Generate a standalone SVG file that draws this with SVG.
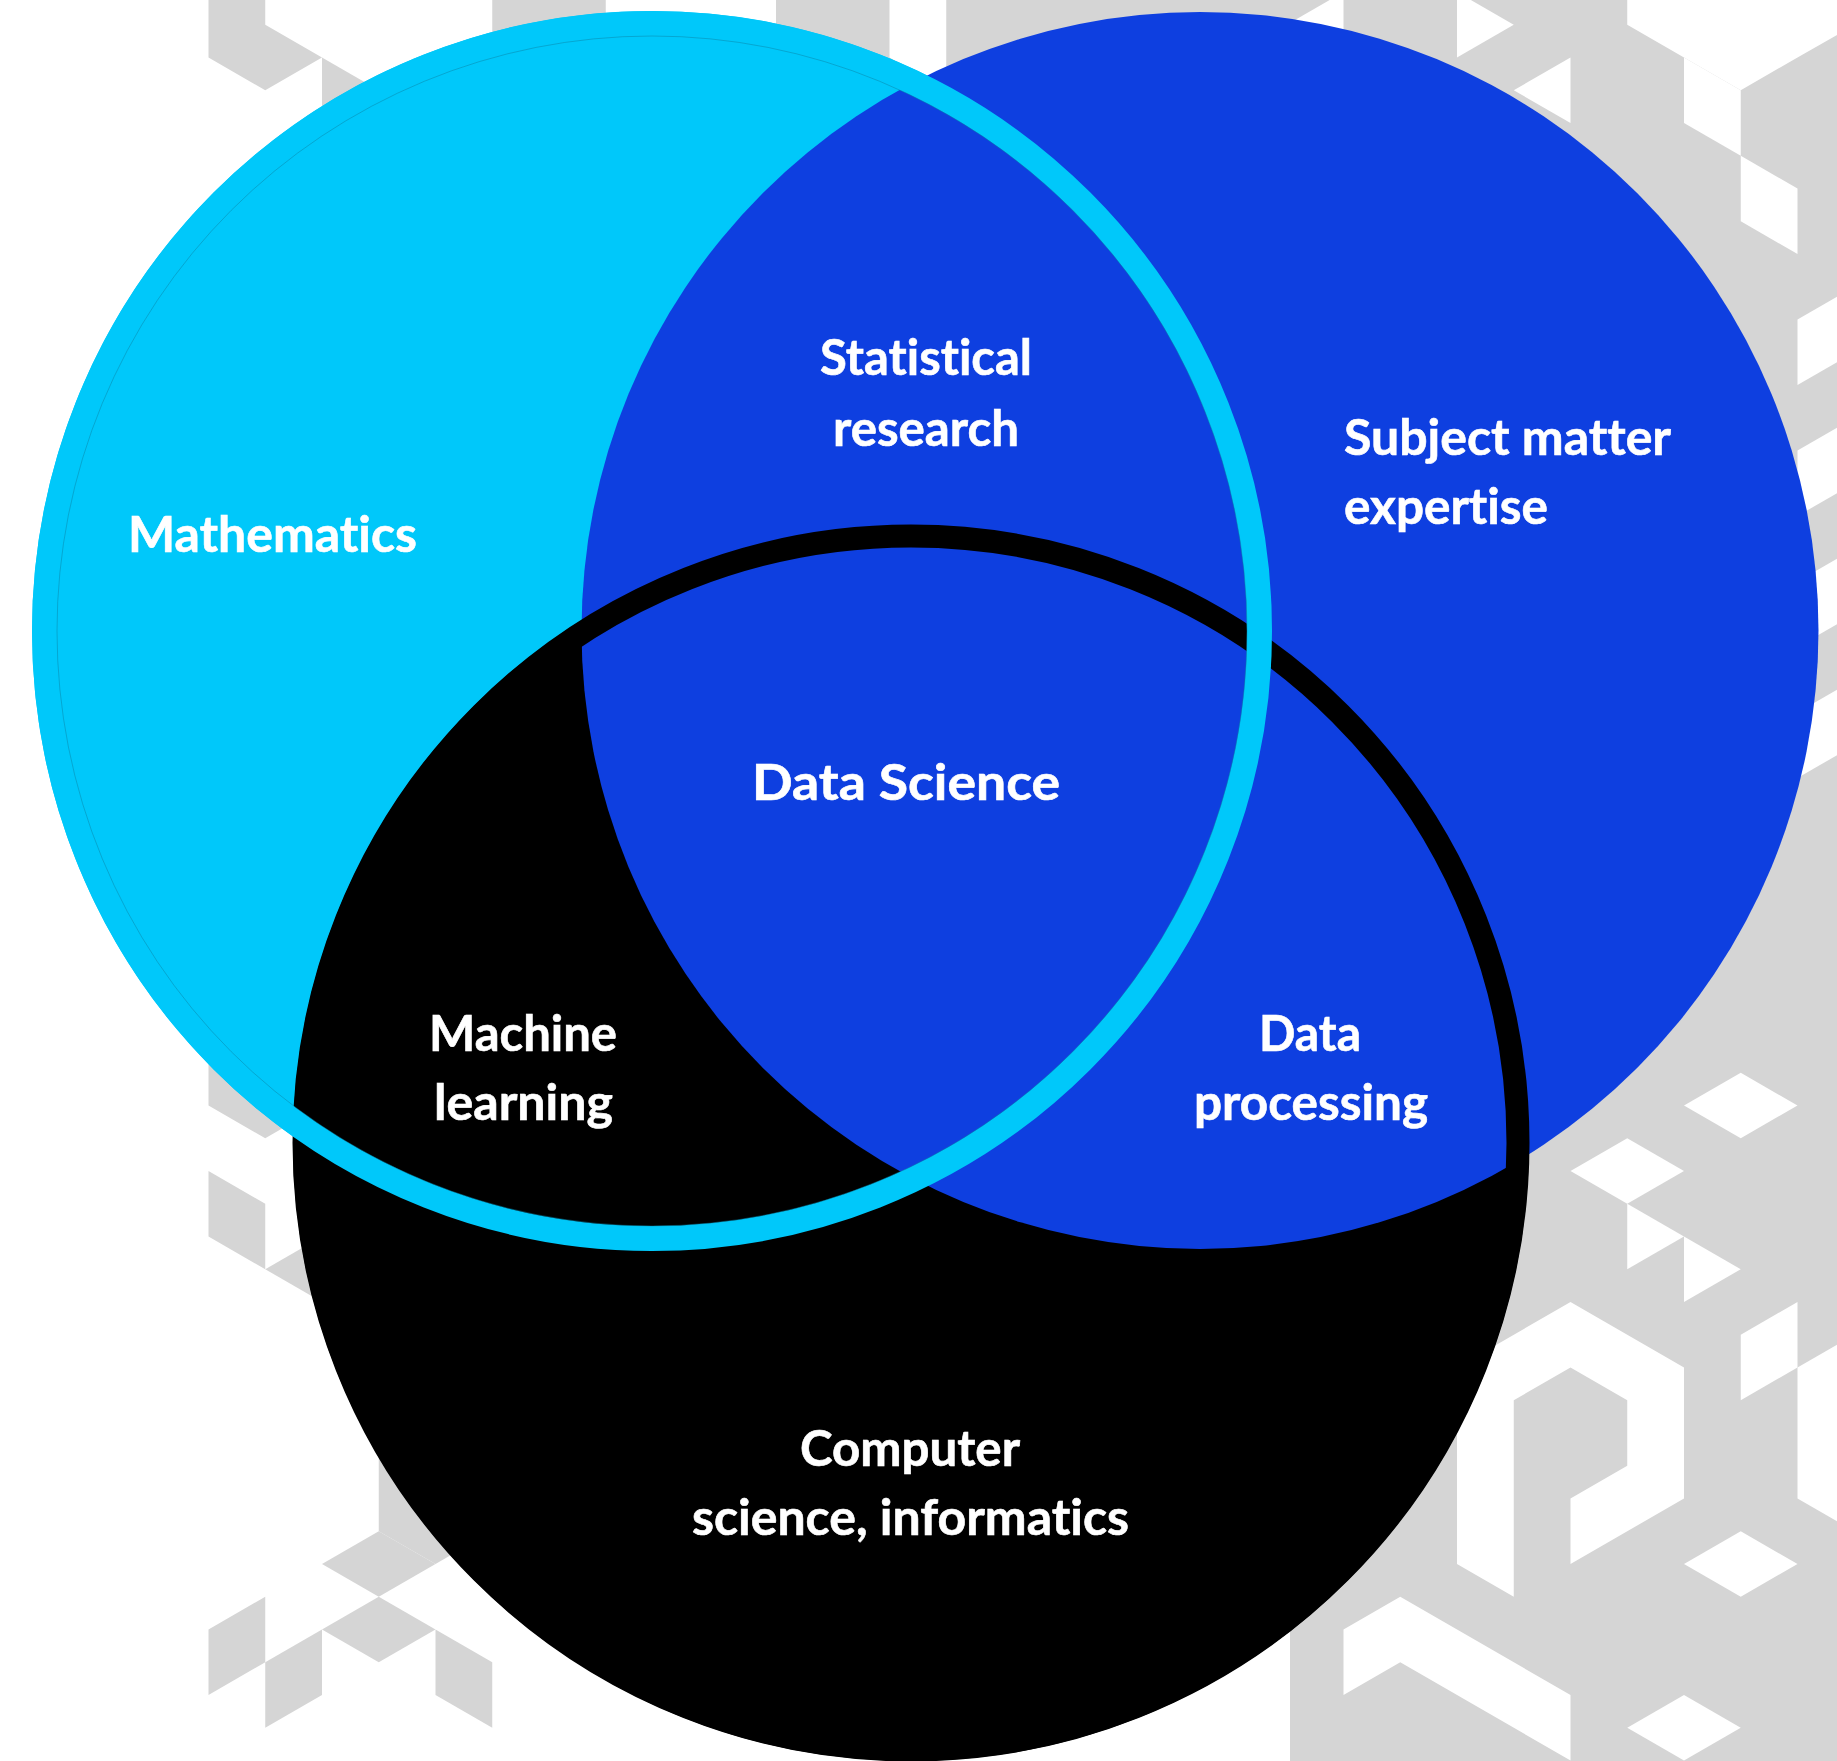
<svg xmlns="http://www.w3.org/2000/svg" width="1837" height="1761" viewBox="0 0 1837 1761">
<style>
.lbl{font-family:Lato,"Liberation Sans",sans-serif;font-weight:700;font-size:49px;fill:#ffffff;stroke:#ffffff;stroke-width:0.6;font-variant-ligatures:none;font-feature-settings:"liga" 0,"clig" 0}
.c{text-anchor:middle}
.pat{fill:#d5d5d5}
.w{fill:#ffffff}
</style>
<rect width="1837" height="1761" fill="#ffffff"/>
<g id="background-pattern">
<g class="pat">
<polygon points="208.5,0 265.25,0 265.25,24.75 322,57.5 265.25,90.25 208.5,57.5"/>
<polygon points="322,57.5 378.75,90.25 378.75,155.75 322,123"/>
<polygon points="492.25,0 605.75,0 605.75,70 492.25,70"/>
<polygon points="776,0 1457,0 1457,80 776,80"/>
<polygon points="1457,0 1837,0 1837,1761 1290,1761 1290,1300 1400,1100 1500,600 1457,100"/>
<polygon points="208.5,1040 265.25,1072.75 322,1040 322,1105.5 265.25,1138.25 208.5,1105.5"/>
<polygon points="208.5,1171 265.25,1203.75 265.25,1269.25 208.5,1236.5"/>
<polygon points="265.25,1269.25 322,1236.5 322,1302"/>
<polygon points="378.75,1420 492.25,1420 492.25,1531.25 435.5,1564 378.75,1531.25"/>
<polygon points="322,1564 378.75,1531.25 435.5,1564 378.75,1596.75"/>
<polygon points="322,1629.5 378.75,1596.75 435.5,1629.5 378.75,1662.25"/>
<polygon points="208.5,1629.5 265.25,1596.75 265.25,1662.25 208.5,1695"/>
<polygon points="265.25,1662.25 322,1629.5 322,1695 265.25,1727.75"/>
<polygon points="435.5,1629.5 492.25,1662.25 492.25,1727.75 435.5,1695"/>
</g>
<g class="w">
<polygon points="889.5,0 946.25,0 946.25,90.25 889.5,57.5"/>
<polygon points="1286.75,24.75 1343.5,-8 1343.5,57.5"/>
<polygon points="1627.25,0 1837,0 1837,35 1797.5,57.5 1740.75,90.25 1627.25,24.75"/>
<polygon points="1684,57.5 1740.75,90.25 1740.75,155.75 1684,123"/>
<polygon points="1457,-8 1513.75,24.75 1457,57.5"/>
<polygon points="1513.75,90.25 1570.5,57.5 1570.5,123"/>
<polygon points="1740.75,155.75 1797.5,188.5 1797.5,254 1740.75,221.25"/>
<polygon points="1797.5,319.5 1837,296.7 1837,362.2 1797.5,385"/>
<polygon points="1797.5,450.5 1837,427.7 1837,493.2 1797.5,516"/>
<polygon points="1797.5,581.5 1837,558.7 1837,624.2 1797.5,647"/>
<polygon points="1797.5,712.5 1837,689.7 1837,755.2 1797.5,778"/>
<polygon points="1684,1105.5 1740.75,1072.75 1797.5,1105.5 1740.75,1138.25"/>
<polygon points="1570.5,1171 1627.25,1138.25 1684,1171 1627.25,1203.75"/>
<polygon points="1627.25,1203.75 1684,1236.5 1627.25,1269.25"/>
<polygon points="1684,1236.5 1740.75,1269.25 1684,1302"/>
<polygon points="1457,1367.5 1570.5,1302 1684,1367.5 1684,1498.5 1570.5,1564 1570.5,1498.5 1627.25,1465.75 1627.25,1400.25 1570.5,1367.5 1513.75,1400.25 1513.75,1596.75 1457,1564"/>
<polygon points="1740.75,1334.75 1797.5,1302 1797.5,1367.5 1740.75,1400.25"/>
<polygon points="1797.5,1367.5 1837,1344.7 1837,1521.3 1797.5,1498.5"/>
<polygon points="1684,1564 1740.75,1531.25 1797.5,1564 1740.75,1596.75"/>
<polygon points="1343.5,1629.5 1400.25,1596.75 1570.5,1695 1570.5,1760.5 1400.25,1662.25 1343.5,1695"/>
<polygon points="1627.25,1727.75 1684,1695 1740.75,1727.75 1684,1760.5"/>
</g>
</g>
<g id="node-mathematics-fill"><circle cx="652" cy="631" r="620" fill="#00c8fa"/></g>
<g id="node-computer-science-fill"><circle cx="911" cy="1143" r="618" fill="#000000"/></g>
<g id="node-subject-matter-fill"><circle cx="1200" cy="630.5" r="618.5" fill="#0e3fe0"/></g>
<g id="rings" fill="none">
<circle cx="911" cy="1143" r="607" stroke="#000000" stroke-width="23"/>
<circle cx="652" cy="631" r="607.5" stroke="#00c8fa" stroke-width="25"/>
<circle cx="652" cy="631" r="595" stroke="#0a7fa0" stroke-opacity="0.45" stroke-width="1"/>
</g>
<g id="label-mathematics"><text class="lbl" x="128" y="552" textLength="289" lengthAdjust="spacingAndGlyphs">Mathematics</text></g>
<g id="label-statistical-research">
<text class="lbl c" x="926" y="375" textLength="212" lengthAdjust="spacingAndGlyphs">Statistical</text>
<text class="lbl c" x="926" y="446" textLength="186" lengthAdjust="spacingAndGlyphs">research</text>
</g>
<g id="label-subject-matter">
<text class="lbl" x="1344" y="455" textLength="327" lengthAdjust="spacingAndGlyphs">Subject matter</text>
<text class="lbl" x="1344" y="524" textLength="204" lengthAdjust="spacingAndGlyphs">expertise</text>
</g>
<g id="label-data-science"><text class="lbl c" x="906" y="800" textLength="308" lengthAdjust="spacingAndGlyphs">Data Science</text></g>
<g id="label-machine-learning">
<text class="lbl c" x="523" y="1051" textLength="188" lengthAdjust="spacingAndGlyphs">Machine</text>
<text class="lbl c" x="523.5" y="1120" textLength="179" lengthAdjust="spacingAndGlyphs">learning</text>
</g>
<g id="label-data-processing">
<text class="lbl c" x="1310" y="1051" textLength="102" lengthAdjust="spacingAndGlyphs">Data</text>
<text class="lbl c" x="1311" y="1120" textLength="234" lengthAdjust="spacingAndGlyphs">processing</text>
</g>
<g id="label-computer-science">
<text class="lbl c" x="910" y="1466" textLength="220" lengthAdjust="spacingAndGlyphs">Computer</text>
<text class="lbl c" x="910.5" y="1535" textLength="437" lengthAdjust="spacingAndGlyphs">science, informatics</text>
</g>
</svg>
